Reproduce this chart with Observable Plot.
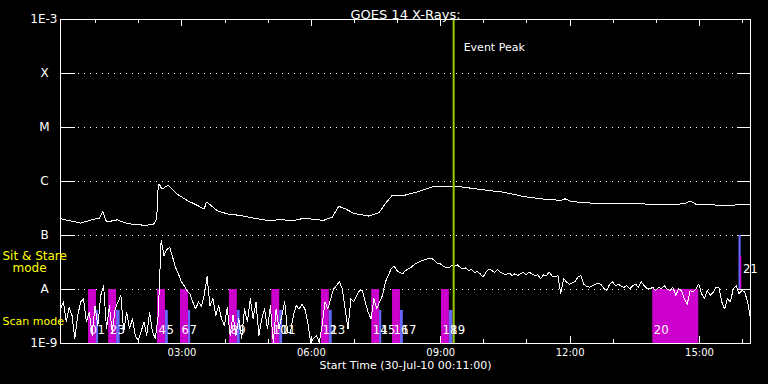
<!DOCTYPE html>
<html><head><meta charset="utf-8">
<script src="https://cdn.jsdelivr.net/npm/d3@7"></script>
<script src="https://cdn.jsdelivr.net/npm/@observablehq/plot@0.6"></script>
<style>html,body{margin:0;padding:0;background:#000;} svg{display:block}</style>
</head><body><div id="chart"></div>
<script>
// ---- data ----
const dateStr = "2010-07-30";
const startTime = "00:11";
const endTime = "16:11";
const title = "GOES 14 X-Rays:";
const xTitle = "Start Time (30-Jul-10 00:11:00)";
const classLetters = ["A", "B", "C", "M", "X"];
const classValues = [1e-8, 1e-7, 1e-6, 1e-5, 1e-4];
const edgeLabels = ["1E-9", "1E-3"];
const edgeValues = [1e-9, 1e-3];
const eventPeak = "09:18";

// GOES long channel (1-8 A), log10 flux
const longTimes = ["00:11","00:39","00:57","01:05","01:10","01:15","01:30","01:44","02:07","02:20","02:25","02:26","02:28","02:32","02:41","02:53","03:07","03:21","03:31","03:34","03:40","03:49","04:03","04:22","04:40","04:59","05:17","05:36","05:50","06:17","06:29","06:38","06:48","06:59","07:20","07:34","07:43","07:53","08:11","08:28","08:50","09:10","09:23","09:51","10:28","10:56","11:19","11:47","11:53","12:01","12:38","13:25","14:20","14:39","14:47","14:55","15:30","16:11"];
const longLog10 = [-6.69,-6.77,-6.70,-6.68,-6.56,-6.75,-6.71,-6.78,-6.81,-6.80,-6.69,-6.23,-6.04,-6.14,-6.07,-6.23,-6.35,-6.44,-6.51,-6.38,-6.44,-6.54,-6.60,-6.63,-6.68,-6.72,-6.71,-6.72,-6.68,-6.72,-6.66,-6.46,-6.51,-6.59,-6.64,-6.58,-6.41,-6.25,-6.25,-6.19,-6.09,-6.10,-6.09,-6.14,-6.20,-6.28,-6.32,-6.35,-6.32,-6.37,-6.41,-6.41,-6.43,-6.41,-6.36,-6.42,-6.44,-6.43];

// GOES short channel (0.5-4 A), log10 flux, one sample every 4 minutes from start
const shortStepMinutes = 4;
const shortLog10 = [
-8.36,-8.23,-8.60,-8.33,-8.48,-8.91,-8.48,-8.23,-8.17,-8.60,
-8.42,-8.85,-8.30,-8.67,-8.11,-7.93,-8.73,-8.30,-8.79,-8.36,
-8.23,-8.11,-8.79,-8.42,-8.73,-8.54,-8.85,-8.94,-8.79,-8.60,
-8.85,-8.42,-8.79,-8.91,-8.48,-7.09,-7.37,-7.26,-7.22,-7.40,
-7.59,-7.71,-7.85,-7.93,-8.02,-8.08,-8.23,-8.36,-8.23,-8.31,
-8.11,-7.76,-8.30,-8.17,-8.48,-8.30,-8.54,-8.67,-8.33,-8.85,
-8.48,-8.85,-8.54,-8.91,-8.36,-8.60,-8.17,-8.54,-8.23,-8.85,
-8.54,-8.36,-8.73,-8.30,-8.98,-8.36,-8.73,-8.48,-8.23,-8.79,
-8.79,-8.48,-8.30,-8.36,-8.27,-8.36,-8.60,-8.98,-8.91,-8.85,
-8.98,-8.67,-8.23,-8.36,-8.17,-7.99,-7.93,-7.85,-7.99,-8.36,
-8.73,-8.17,-8.23,-8.11,-8.02,-8.02,-8.23,-8.42,-8.54,-8.17,
-8.36,-8.23,-8.11,-7.86,-7.74,-7.62,-7.56,-7.65,-7.68,-7.71,
-7.65,-7.62,-7.59,-7.54,-7.51,-7.48,-7.46,-7.44,-7.43,-7.42,
-7.46,-7.51,-7.52,-7.56,-7.59,-7.60,-7.56,-7.57,-7.54,-7.59,
-7.62,-7.60,-7.65,-7.63,-7.68,-7.67,-7.71,-7.77,-7.68,-7.62,
-7.65,-7.68,-7.63,-7.68,-7.71,-7.73,-7.69,-7.74,-7.71,-7.74,
-7.71,-7.68,-7.73,-7.68,-7.71,-7.74,-7.73,-7.80,-7.73,-7.74,
-7.68,-7.75,-7.77,-7.74,-8.08,-7.80,-7.86,-7.90,-7.88,-7.85,
-7.77,-7.74,-7.90,-7.94,-7.96,-7.93,-7.91,-7.88,-7.91,-7.98,
-8.02,-7.90,-7.86,-7.93,-7.90,-7.94,-7.96,-7.93,-7.99,-7.93,
-7.90,-7.96,-7.86,-7.93,-7.98,-7.99,-7.96,-8.02,-7.96,-7.99,
-7.93,-7.99,-8.02,-7.96,-8.11,-7.99,-8.02,-8.17,-8.27,-8.02,
-8.05,-7.99,-7.90,-8.08,-8.17,-8.02,-8.11,-8.05,-7.96,-7.96,
-8.23,-8.36,-8.17,-8.23,-7.99,-7.93,-8.08,-8.02,-8.05,-8.23,
-8.54];

// observations: scan-mode pairs (magenta then blue)
const magentaStarts = ["00:50","01:18","02:26","02:58","04:06","05:05","06:14","07:24","07:53","09:01"];
const blueStarts    = ["01:01","01:29","02:37","03:09","04:17","05:16","06:25","07:35","08:04","09:12"];
const blueEnds      = ["01:04","01:34","02:41","03:12","04:21","05:20","06:29","07:38","08:08","09:17"];
const longScan = ["13:55", "14:59"];           // observation 20
const sitStareBlue = ["15:55", "15:58"];        // observation 21
const sitStareMagenta = ["15:57", "15:59"];
const obsNumbers = d3.range(22).map(String);
// bar extents (flux)
const scanBand = [1e-9, 1e-8];
const scanBlueTop = 4.1e-9;
const sitBand = [1e-8, 1e-7];
const sitMagentaTop = 4.1e-8;

// ---- build ----
const T = s => new Date(`${dateStr}T${s}:00Z`);
const t0 = T(startTime), t1 = T(endTime);
const longData = longTimes.map((s, i) => ({t: T(s), v: 10 ** longLog10[i]}));
const shortData = shortLog10.map((v, i) => ({t: new Date(+t0 + i * shortStepMinutes * 60000), v: 10 ** v}));
const pairs = magentaStarts.map((s, i) => ({m0: T(s), m1: T(blueStarts[i]), b0: T(blueStarts[i]), b1: T(blueEnds[i])}));
const obsLabels = [];
pairs.forEach((p, i) => { obsLabels.push({t: p.m0, n: obsNumbers[2*i]}); obsLabels.push({t: p.b0, n: obsNumbers[2*i+1]}); });
obsLabels.push({t: T(longScan[0]), n: obsNumbers[20]});

const hours = d3.range(1, 17).map(h => T(String(h).padStart(2, "0") + ":00"));
const majors = hours.filter(d => d.getUTCHours() % 3 === 0);
const minors = hours.filter(d => d.getUTCHours() % 3 !== 0);

const W = 768, H = 384, ML = 60, MR = 18, MT = 19, MB = 41;
const FW = W - ML - MR, FH = H - MT - MB;
const white = "#ffffff", magenta = "#cc00cc", blue = "#6666ff", yellow = "#ffff00", peakColor = "#99cc00";
const font = "'DejaVu Sans', sans-serif";
const condensed = "'DejaVu Sans Condensed', 'DejaVu Sans', sans-serif";

const chart = Plot.plot({
  width: W, height: H, marginTop: MT, marginBottom: MB, marginLeft: ML, marginRight: MR,
  x: {type: "utc", domain: [t0, t1], axis: null},
  y: {type: "log", domain: [1e-9, 1e-3], axis: null},
  style: {background: "#000", color: white, fontFamily: font, fontSize: "12px"},
  marks: [
    // dotted grid
    Plot.ruleY(classValues, {y: d => d, stroke: white, strokeDasharray: "1,5", insetLeft: 18, shapeRendering: "crispEdges"}),
    // y ticks left / right
    Plot.ruleY(classValues, {y: d => d, stroke: white, insetRight: FW - 15, shapeRendering: "crispEdges"}),
    Plot.ruleY(classValues, {y: d => d, stroke: white, insetLeft: FW - 13, shapeRendering: "crispEdges"}),
    // x ticks bottom/top
    Plot.ruleX(minors, {x: d => d, stroke: white, insetTop: FH - 4, shapeRendering: "crispEdges"}),
    Plot.ruleX(majors, {x: d => d, stroke: white, insetTop: FH - 7, shapeRendering: "crispEdges"}),
    Plot.ruleX(minors, {x: d => d, stroke: white, insetBottom: FH - 4, shapeRendering: "crispEdges"}),
    Plot.ruleX(majors, {x: d => d, stroke: white, insetBottom: FH - 7, shapeRendering: "crispEdges"}),
    // observation bars
    Plot.rect(pairs, {x1: "m0", x2: "m1", y1: scanBand[0], y2: scanBand[1], fill: magenta}),
    Plot.rect(pairs, {x1: "b0", x2: "b1", y1: scanBand[0], y2: scanBlueTop, fill: blue}),
    Plot.rect([longScan], {x1: d => T(d[0]), x2: d => T(d[1]), y1: scanBand[0], y2: scanBand[1], fill: magenta}),
    Plot.rect([sitStareBlue], {x1: d => T(d[0]), x2: d => T(d[1]), y1: sitBand[0], y2: sitBand[1], fill: blue}),
    Plot.rect([sitStareMagenta], {x1: d => T(d[0]), x2: d => T(d[1]), y1: sitBand[0], y2: sitMagentaTop, fill: magenta}),
    // curves
    Plot.line(longData, {x: "t", y: "v", stroke: white, strokeWidth: 1, shapeRendering: "crispEdges"}),
    Plot.line(shortData, {x: "t", y: "v", stroke: white, strokeWidth: 1, shapeRendering: "crispEdges"}),
    // event peak
    Plot.ruleX([T(eventPeak)], {x: d => d, stroke: peakColor, strokeWidth: 2}),
    Plot.text(["Event Peak"], {x: T(eventPeak), frameAnchor: "top", dy: 24, dx: 10, textAnchor: "start", fill: white, fontSize: 11}),
    // obs labels
    Plot.text(obsLabels, {x: "t", text: "n", frameAnchor: "bottom", dy: -10, dx: 1, textAnchor: "start", fill: white, fontSize: 13, fontFamily: condensed}),
    Plot.text([obsNumbers[21]], {x: T(sitStareMagenta[1]), frameAnchor: "bottom", dy: -71, dx: 1, textAnchor: "start", fill: white, fontSize: 13, fontFamily: condensed}),
    // frame
    Plot.frame({stroke: white}),
    // y labels
    Plot.text(classLetters, {y: (d, i) => classValues[i], frameAnchor: "left", dx: -16, textAnchor: "middle", fill: white, fontSize: 12}),
    Plot.text(edgeLabels, {y: (d, i) => edgeValues[i], frameAnchor: "left", dx: -3, textAnchor: "end", fill: white, fontSize: 12}),
    // x labels
    Plot.text(majors, {x: d => d, text: d => d3.utcFormat("%H:%M")(d), frameAnchor: "bottom", dy: 12, fill: white, fontSize: 10}),
    Plot.text([xTitle], {frameAnchor: "bottom", dy: 25, fill: white, fontSize: 11}),
    // title
    Plot.text([title], {frameAnchor: "top", dy: -10, fill: white, fontSize: 13}),
    // mode labels
    Plot.text(["Sit & Stare"], {frameAnchor: "bottom-left", dx: -58, dy: -84, textAnchor: "start", fill: yellow, fontSize: 12}),
    Plot.text(["mode"], {frameAnchor: "bottom-left", dx: -48, dy: -72, textAnchor: "start", fill: yellow, fontSize: 12}),
    Plot.text(["Scan mode"], {frameAnchor: "bottom-left", dx: -58, dy: -19, textAnchor: "start", fill: yellow, fontSize: 11})
  ]
});
document.getElementById("chart").appendChild(chart);
</script>
</body></html>
